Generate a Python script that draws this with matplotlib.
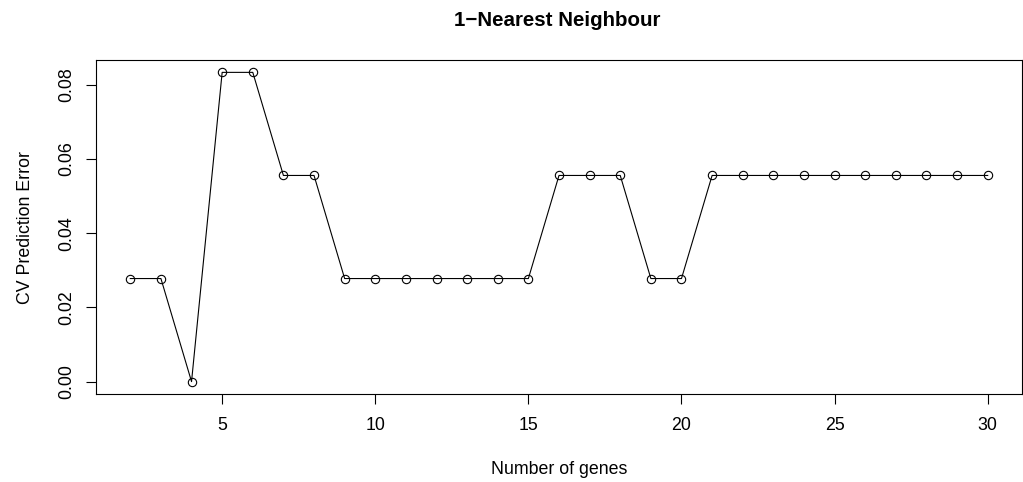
import matplotlib
matplotlib.use("Agg")
import matplotlib.pyplot as plt
import numpy as np

plt.rcParams['font.family'] = ['Liberation Sans', 'DejaVu Sans']

# Leave-one-out CV error for 1-NN, by number of genes kept
n_genes = list(range(2, 31))
n_wrong = [1, 1, 0, 3, 3, 2, 2, 1, 1, 1, 1, 1, 1, 1, 2, 2, 2, 1, 1,
           2, 2, 2, 2, 2, 2, 2, 2, 2, 2]
n_samples = 36
cv_error = [w / n_samples for w in n_wrong]

W, H = 1023, 482
fig = plt.figure(figsize=(W / 100, H / 100), dpi=100)
ax = fig.add_axes([96 / W, (H - 394) / H, (1022 - 96) / W, (394 - 60) / H])

ax.plot(n_genes, cv_error, color='black', linewidth=0.8,
        marker='o', markersize=6, markerfacecolor='none',
        markeredgewidth=0.8)

# R style 4% padding around the data
xmin, xmax = min(n_genes), max(n_genes)
xpad = 0.04 * (xmax - xmin)
ax.set_xlim(xmin - xpad, xmax + xpad)
ymax = max(cv_error)
ax.set_ylim(-0.04 * ymax, ymax * 1.04)

ax.set_xticks([5, 10, 15, 20, 25, 30])
ax.set_yticks([0.00, 0.02, 0.04, 0.06, 0.08])
ax.set_yticklabels(['0.00', '0.02', '0.04', '0.06', '0.08'],
                   rotation=90, va='center')
ax.tick_params(axis='both', direction='out', length=7.2, width=0.8,
               labelsize=12.8)
ax.tick_params(axis='x', pad=9)
ax.tick_params(axis='y', pad=8)
for s in ax.spines.values():
    s.set_linewidth(0.8)

fig.text(557 / W, 1 - 20 / H, '1\u2212Nearest Neighbour', ha='center',
         va='center', fontsize=14.8, fontweight='bold')
fig.text(559 / W, 1 - 469 / H, 'Number of genes', ha='center',
         va='center', fontsize=12.8)
fig.text(26 / W, 1 - 227 / H, 'CV Prediction Error', ha='center',
         va='center', fontsize=12.8, rotation=90)

fig.savefig('out.png', dpi=100)
